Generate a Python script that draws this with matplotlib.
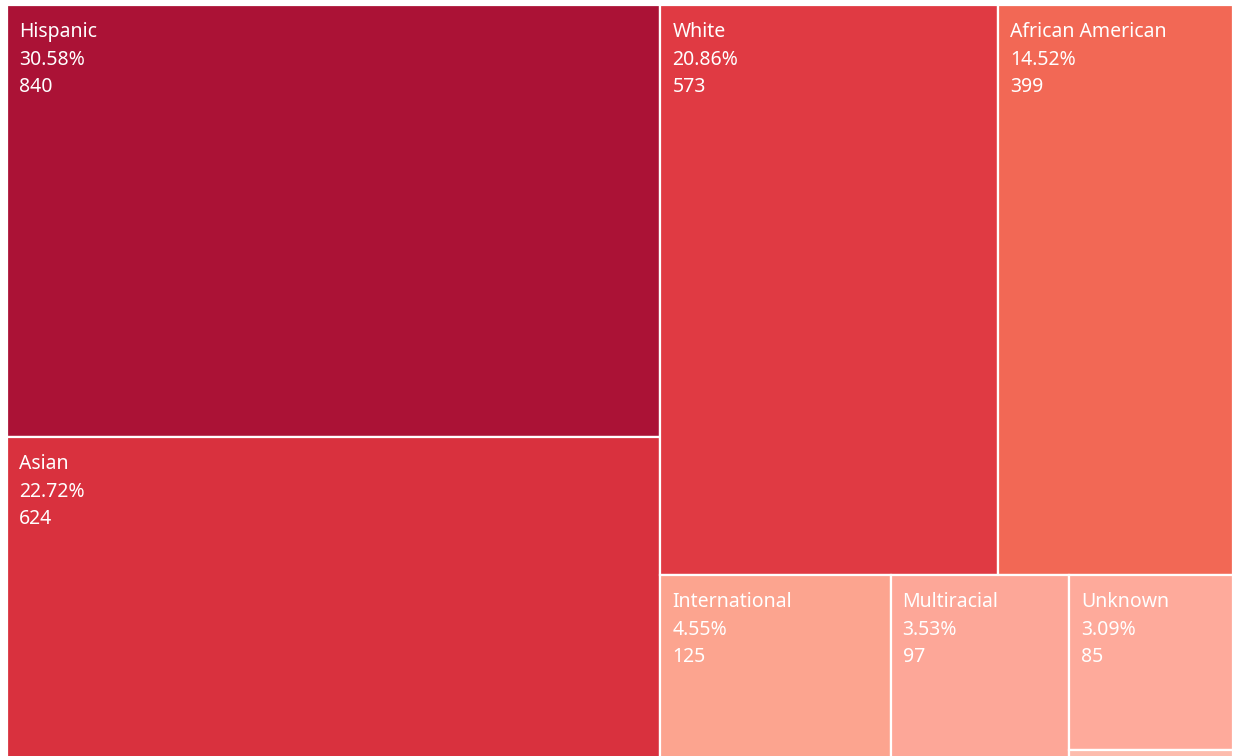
import matplotlib.pyplot as plt
from matplotlib.patches import Rectangle

# datos del treemap
categorias = ["Hispanic", "Asian", "White", "African American",
              "International", "Multiracial", "Unknown", "Other"]
valores = [840, 624, 573, 399, 125, 97, 85, 4]
colores = ["#AB1236", "#D9313E", "#E03A43", "#F26855",
           "#FCA48F", "#FDA798", "#FEAA9B", "#FDBCAD"]

# estructura del layout (grupos de indices): columna izq / columna der
# columna der = fila arriba + fila abajo; Unknown y Other apilados
estructura = ("h", [("v", [0, 1]),
                    ("v", [("h", [2, 3]),
                           ("h", [4, 5, ("v", [6, 7])])])])


def total(nodo):
    if isinstance(nodo, int):
        return valores[nodo]
    return sum(total(n) for n in nodo[1])


def layout(nodo, x, y, w, h, out):
    if isinstance(nodo, int):
        out[nodo] = (x, y, w, h)
        return
    modo, hijos = nodo
    t = total(nodo)
    pos = 0.0
    for hijo in hijos:
        f = total(hijo) / t
        if modo == "h":
            layout(hijo, x + pos * w, y, w * f, h, out)
        else:
            layout(hijo, x, y + pos * h, w, h * f, out)
        pos += f


W, H = 1226.0, 753.0
rects = {}
layout(estructura, 0, 0, W, H, rects)
suma = sum(valores)

fig = plt.figure(figsize=(12.33, 7.56), dpi=100)
ax = fig.add_axes([7 / 1233, -2 / 756, W / 1233, H / 756])
ax.set_xlim(0, W)
ax.set_ylim(H, 0)
ax.axis("off")

for i, nombre in enumerate(categorias):
    x, y, w, h = rects[i]
    ax.add_patch(Rectangle((x, y), w, h, facecolor=colores[i],
                           edgecolor="white", linewidth=1.6))
    if h > 60:
        texto = f"{nombre}\n{valores[i] / suma * 100:.2f}%\n{valores[i]}"
        ax.annotate(texto, (x, y), xytext=(12, -17), textcoords="offset pixels",
                    ha="left", va="top", color="white", fontsize=14,
                    family="Noto Sans", linespacing=1.5)

fig.savefig("out.png", dpi=100)
